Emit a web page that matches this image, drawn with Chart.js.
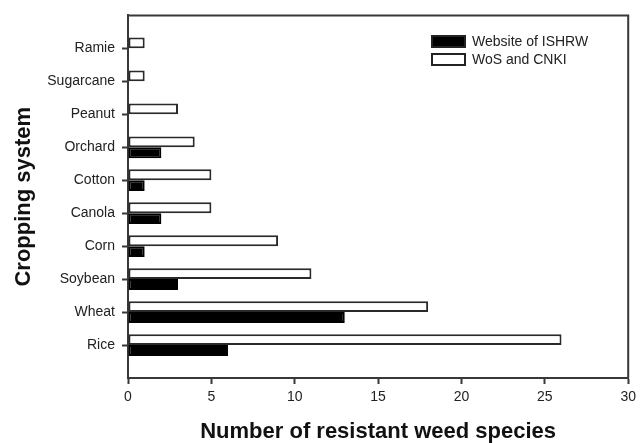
<!DOCTYPE html>
<html>
<head>
<meta charset="utf-8">
<script src="https://cdn.jsdelivr.net/npm/chart.js@4.4.1/dist/chart.umd.min.js"></script>
<style>
  body { margin: 0; background: #fff; }
  #wrap { width: 641px; height: 443px; }
</style>
</head>
<body>
<div id="wrap"><canvas id="graphCanvas" width="641" height="443"></canvas></div>
<script>
// cropping systems, top to bottom
var crops = ['Ramie', 'Sugarcane', 'Peanut', 'Orchard', 'Cotton', 'Canola', 'Corn', 'Soybean', 'Wheat', 'Rice'];
var ishrw = [0, 0, 0, 2, 1, 2, 1, 3, 13, 6];
var wosCnki = [1, 1, 3, 4, 5, 5, 9, 11, 18, 26];
var xTicks = [0, 5, 10, 15, 20, 25, 30];
var seriesNames = ['Website of ISHRW', 'WoS and CNKI'];

// empty slot above and below so the bars sit one band from the frame
var labels = [''].concat(crops, ['']);
function pad(arr) { return [null].concat(arr, [null]); }

var axisColor = '#383838';
var tickFont = { family: 'Liberation Sans', size: 14 };
var titleFont = { family: 'Liberation Sans', size: 22, weight: 'bold', lineHeight: 1 };

var frame = {
    id: 'frame',
    afterDraw: function (chart) {
        var c = chart.ctx, a = chart.chartArea;
        c.save();
        c.strokeStyle = axisColor;
        c.lineWidth = 2;
        c.beginPath();
        c.moveTo(a.left, a.top);
        c.lineTo(a.right, a.top);
        c.lineTo(a.right, a.bottom);
        c.stroke();

        // legend, top right inside the plot
        c.font = '14px "Liberation Sans"';
        c.textBaseline = 'middle';
        c.textAlign = 'left';
        var fills = ['#000000', '#ffffff'];
        for (var i = 0; i < seriesNames.length; i++) {
            var y = 36 + i * 18;
            c.fillStyle = fills[i];
            c.fillRect(432, y, 33, 11);
            c.strokeStyle = '#222';
            c.lineWidth = 2;
            c.strokeRect(432, y, 33, 11);
            c.fillStyle = '#222';
            c.fillText(seriesNames[i], 472, y + 6);
        }
        c.restore();
    }
};

new Chart(document.getElementById('graphCanvas'), {
    type: 'bar',
    data: {
        labels: labels,
        datasets: [
            {
                label: seriesNames[1],
                data: pad(wosCnki),
                backgroundColor: '#ffffff',
                borderColor: '#2a2a2a',
                borderWidth: 2,
                borderSkipped: false
            },
            {
                label: seriesNames[0],
                data: pad(ishrw),
                backgroundColor: '#000000',
                borderColor: '#000000',
                borderWidth: 2,
                borderSkipped: false
            }
        ]
    },
    options: {
        indexAxis: 'y',
        responsive: false,
        animation: false,
        layout: { padding: { left: 0, right: 9, top: 15, bottom: 0 } },
        datasets: { bar: { categoryPercentage: 0.66, barPercentage: 1 } },
        plugins: { legend: { display: false }, tooltip: { enabled: false } },
        scales: {
            x: {
                min: 0,
                max: 30,
                afterBuildTicks: function (s) { s.ticks = xTicks.map(function (v) { return { value: v }; }); },
                afterFit: function (s) { s.height = 65; },
                ticks: { color: '#222', font: tickFont, padding: 5 },
                grid: { drawOnChartArea: false, tickLength: 6, tickColor: axisColor, tickWidth: 2 },
                border: { color: axisColor, width: 2 },
                title: {
                    display: true,
                    text: 'Number of resistant weed species',
                    color: '#111',
                    font: titleFont,
                    padding: { top: 0, bottom: 0 }
                }
            },
            y: {
                offset: false,
                afterFit: function (s) { s.width = 128; },
                ticks: { color: '#222', font: tickFont, padding: 7, autoSkip: false },
                grid: {
                    offset: false,
                    drawOnChartArea: false,
                    tickLength: 6,
                    tickWidth: 2,
                    tickColor: function (ctx) {
                        return (ctx.index === 0 || ctx.index === labels.length - 1) ? 'rgba(0,0,0,0)' : axisColor;
                    }
                },
                border: { color: axisColor, width: 2 },
                title: {
                    display: true,
                    text: 'Cropping system',
                    color: '#111',
                    font: titleFont,
                    padding: { top: 13, bottom: 0 }
                }
            }
        }
    },
    plugins: [frame]
});
</script>
</body>
</html>
